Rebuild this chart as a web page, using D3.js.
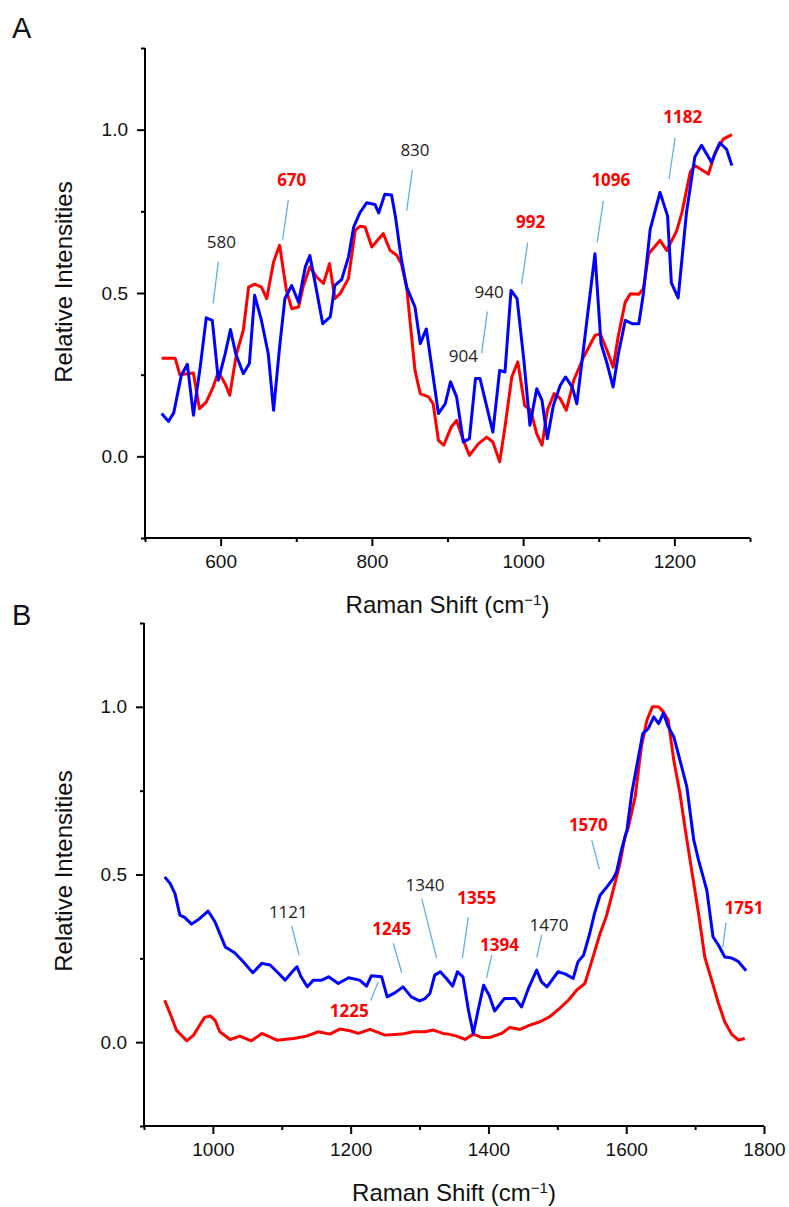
<!DOCTYPE html>
<html>
<head>
<meta charset="UTF-8">
<title>Raman spectra A / B</title>
<script src="https://d3js.org/d3.v7.min.js"></script>
<style>
  body { margin: 0; background: #fff; }
  svg { display: block; }
  .axis path, .axis line { stroke: #000; stroke-width: 2px; }
  .axis text { font-family: "Liberation Sans", Arial, sans-serif; font-size: 19px; fill: #111; }
  .title { font-family: "Liberation Sans", Arial, sans-serif; font-size: 24px; fill: #111; }
  .panel { font-family: "Liberation Sans", Arial, sans-serif; font-size: 29px; fill: #111; }
  .note { font-family: "Open Sans", sans-serif; font-size: 17px; }
  .lead { stroke: #62b0e6; stroke-width: 1.3px; }
</style>
</head>
<body>
<div id="chart"></div>
<script>
// ---- panel A data (Raman shift cm-1, relative intensity) ----
const aRed = [[522,.30],[540,.30],[546,.25],[564,.255],[572,.146],[581,.166],[590,.212],[597,.258],[606,.222],[612,.187],
  [621,.314],[630,.386],[637,.518],[645,.527],[654,.518],[661,.483],[670,.595],[678,.646],[687,.508],[694,.452],
  [703,.457],[709,.518],[718,.58],[727,.549],[736,.529],[744,.59],[751,.483],[758,.498],[769,.544],[778,.692],
  [784,.704],[791,.702],[800,.641],[815,.682],[824,.631],[833,.615],[839,.59],[846,.518],[857,.263],[864,.192],
  [875,.182],[881,.161],[888,.049],[895,.034],[905,.09],[912,.11],[921,.049],[929,.003],[941,.039],[952,.059],
  [960,.044],[969,-.017],[976,.09],[985,.243],[993,.289],[1002,.156],[1010,.141],[1018,.069],[1025,.034],[1032,.141],
  [1041,.192],[1049,.177],[1057,.141],[1067,.233],[1080,.304],[1095,.37],[1102,.375],[1111,.324],[1119,.273],[1126,.37],
  [1135,.472],[1142,.498],[1153,.496],[1159,.513],[1166,.62],[1181,.661],[1190,.63],[1203,.69],[1210,.746],[1221,.87],
  [1227,.89],[1245,.864],[1254,.931],[1265,.972],[1276,.985]];
const aBlue = [[522,.131],[531,.107],[538,.133],[548,.248],[556,.282],[564,.126],[573,.273],[581,.424],[589,.416],[597,.233],
  [606,.314],[613,.388],[620,.314],[630,.253],[638,.284],[645,.493],[654,.416],[663,.314],[670,.141],[678,.335],
  [685,.483],[694,.523],[703,.472],[712,.58],[718,.615],[726,.518],[735,.406],[745,.427],[751,.523],[760,.541],
  [769,.61],[776,.702],[784,.745],[793,.776],[804,.771],[809,.745],[817,.802],[826,.8],[831,.736],[839,.603],
  [846,.518],[857,.457],[864,.345],[872,.39],[888,.131],[897,.161],[904,.228],[912,.182],[921,.044],[929,.054],
  [937,.238],[943,.238],[960,.074],[969,.263],[976,.258],[984,.508],[992,.483],[1001,.294],[1009,.095],[1018,.207],
  [1025,.171],[1032,.054],[1040,.156],[1049,.217],[1056,.243],[1065,.212],[1071,.161],[1078,.294],[1087,.467],[1095,.62],
  [1103,.345],[1111,.284],[1119,.212],[1126,.314],[1135,.416],[1144,.406],[1153,.406],[1159,.498],[1168,.695],[1181,.808],
  [1191,.736],[1196,.531],[1205,.485],[1216,.746],[1227,.916],[1236,.952],[1249,.9],[1260,.96],[1269,.94],[1276,.89]];

// ---- panel B data ----
const bRed = [[930,.125],[938,.085],[947,.036],[962,.004],[972,.021],[981,.051],[988,.074],[996,.078],[1003,.066],[1010,.031],
  [1025,.008],[1039,.018],[1056,.004],[1071,.026],[1093,.006],[1117,.011],[1136,.018],[1153,.031],[1170,.024],[1184,.039],
  [1199,.034],[1211,.026],[1228,.038],[1250,.021],[1274,.024],[1291,.031],[1308,.031],[1320,.036],[1334,.026],[1342,.024],
  [1354,.018],[1366,.008],[1378,.024],[1390,.014],[1402,.014],[1419,.026],[1431,.044],[1446,.038],[1460,.051],[1475,.061],
  [1489,.076],[1503,.1],[1516,.125],[1528,.155],[1540,.175],[1549,.235],[1562,.324],[1571,.374],[1581,.453],[1591,.533],
  [1598,.612],[1603,.64],[1613,.732],[1622,.881],[1630,.96],[1638,1.0],[1647,1.0],[1654,.985],[1661,.96],[1669,.841],
  [1678,.742],[1686,.63],[1695,.513],[1705,.384],[1714,.254],[1724,.185],[1734,.115],[1743,.061],[1753,.024],[1763,.006],
  [1772,.011]];
const bBlue = [[930,.493],[938,.473],[945,.443],[952,.379],[959,.372],[969,.352],[981,.369],[993,.391],[1003,.359],[1018,.284],
  [1032,.266],[1044,.24],[1058,.207],[1071,.235],[1083,.23],[1093,.21],[1105,.185],[1114,.207],[1122,.225],[1128,.195],
  [1137,.165],[1146,.185],[1158,.185],[1168,.195],[1182,.175],[1197,.192],[1213,.185],[1223,.167],[1230,.198],[1245,.195],
  [1253,.135],[1264,.147],[1276,.165],[1288,.135],[1300,.123],[1308,.13],[1315,.145],[1322,.2],[1330,.21],[1339,.19],
  [1348,.167],[1355,.21],[1363,.195],[1371,.095],[1378,.026],[1385,.095],[1393,.17],[1401,.14],[1409,.093],[1423,.13],
  [1439,.13],[1448,.105],[1459,.165],[1470,.215],[1477,.18],[1485,.165],[1501,.21],[1512,.203],[1523,.19],[1530,.24],
  [1538,.259],[1547,.324],[1554,.384],[1562,.438],[1572,.463],[1581,.488],[1586,.508],[1593,.573],[1601,.632],[1608,.742],
  [1615,.82],[1624,.92],[1632,.935],[1640,.97],[1647,.95],[1654,.981],[1661,.941],[1669,.911],[1678,.841],[1688,.761],
  [1698,.603],[1705,.543],[1717,.453],[1726,.314],[1734,.289],[1743,.254],[1753,.251],[1763,.24],[1774,.213]];

// ---- axis ticks ----
const aMajorX = [600, 800, 1000, 1200];
const aMinorX = [500, 700, 900, 1100, 1300];
const bMajorX = [1000, 1200, 1400, 1600, 1800];
const bMinorX = [900, 1100, 1300, 1500, 1700];
const majorY = [0, 0.5, 1.0];
const minorY = [-0.25, 0.25, 0.75, 1.25];

// ---- peak annotations: [text, bold?, label x, label y, lead x1, y1, x2, y2] in data units ----
const aNotes = [
  ["580", false, 601, .657, 597, .596, 590, .468],
  ["670", true, 694, .846, 689.5, .785, 682, .663],
  ["830", false, 857, .938, 853.5, .876, 846, .752],
  ["992", true, 1010, .718, 1006, .654, 998, .527],
  ["1096", true, 1116, .846, 1106, .782, 1098, .655],
  ["1182", true, 1211, 1.039, 1201, .976, 1193, .849],
  ["940", false, 955, .504, null],
  ["904", false, 921, .307, 952.6, .443, 945.2, .315]
];
const bNotes = [
  ["1121", false, 1109.5, .389, 1114.4, .347, 1125, .26],
  ["1245", true, 1259.6, .337, 1261.9, .295, 1274.1, .207],
  ["1225", true, 1198, .093, 1229.1, .124, 1240.1, .18],
  ["1340", false, 1308, .469, 1303.1, .429, 1324.9, .25],
  ["1355", true, 1383, .429, 1370.8, .373, 1362.1, .25],
  ["1394", true, 1416, .29, 1404.8, .26, 1397.2, .191],
  ["1470", false, 1488, .35, 1477.3, .32, 1470.1, .252],
  ["1570", true, 1545, .648, 1549.9, .603, 1560.9, .516],
  ["1751", true, 1771, .401, 1744.8, .356, 1740, .283]
];

const svg = d3.select("#chart").append("svg")
  .attr("width", 789).attr("height", 1207);

function drawPanel(o) {
  const x = d3.scaleLinear().domain(o.xDomain).range(o.xRange);
  const y = d3.scaleLinear().domain([-0.25, 1.25]).range(o.yRange);
  const g = svg.append("g");
  const x0 = o.xRange[0], yb = o.yRange[0];

  // x axis, major then minor ticks
  g.append("g").attr("class", "axis").attr("transform", `translate(0,${yb})`)
    .call(d3.axisBottom(x).tickValues(o.majorX).tickSize(8).tickPadding(9).tickFormat(d3.format("d")))
    .call(s => s.select(".domain").attr("d", `M${o.xRange[0]},0H${o.xRange[1]}`));
  g.append("g").attr("class", "axis").attr("transform", `translate(0,${yb})`)
    .call(d3.axisBottom(x).tickValues(o.minorX).tickSize(4).tickFormat(""))
    .call(s => s.select(".domain").remove());

  // y axis
  g.append("g").attr("class", "axis").attr("transform", `translate(${x0},0)`)
    .call(d3.axisLeft(y).tickValues(majorY).tickSize(8).tickPadding(9).tickFormat(d3.format(".1f")))
    .call(s => s.select(".domain").attr("d", `M0,${o.yRange[0]}V${o.yRange[1]}`));
  g.append("g").attr("class", "axis").attr("transform", `translate(${x0},0)`)
    .call(d3.axisLeft(y).tickValues(minorY).tickSize(4).tickFormat(""))
    .call(s => s.select(".domain").remove());

  // spectra
  const line = d3.line().x(d => x(d[0])).y(d => y(d[1]));
  [[o.red, "#ff0000"], [o.blue, "#0000ff"]].forEach(([data, c]) => {
    g.append("path").datum(data).attr("d", line)
      .attr("fill", "none").attr("stroke", c).attr("stroke-width", 3)
      .attr("stroke-linejoin", "round");
  });

  // annotations
  o.notes.forEach(n => {
    if (n[4] != null) {
      g.append("line").attr("class", "lead")
        .attr("x1", x(n[4])).attr("y1", y(n[5]))
        .attr("x2", x(n[6])).attr("y2", y(n[7]));
    }
    g.append("text").attr("class", "note")
      .attr("x", x(n[2])).attr("y", y(n[3]))
      .attr("dy", "0.36em").attr("text-anchor", "middle")
      .attr("fill", n[1] ? "#ff0000" : "#222")
      .attr("font-weight", n[1] ? "bold" : "normal")
      .text(n[0]);
  });

  // axis titles
  const xt = g.append("text").attr("class", "title")
    .attr("x", (o.xRange[0] + o.xRange[1]) / 2).attr("y", yb + o.titleGap)
    .attr("text-anchor", "middle");
  xt.append("tspan").text("Raman Shift (cm");
  xt.append("tspan").attr("dy", "-8").attr("font-size", "15px").text("\u22121");
  xt.append("tspan").attr("dy", "8").text(")");

  g.append("text").attr("class", "title")
    .attr("transform", `translate(72,${o.yTitleMid}) rotate(-90)`)
    .attr("text-anchor", "middle").text("Relative Intensities");

  g.append("text").attr("class", "panel")
    .attr("x", 12).attr("y", o.letterY).text(o.letter);
}

drawPanel({ letter: "A", letterY: 38, xDomain: [500, 1300], xRange: [145, 750], yRange: [538, 48],
  majorX: aMajorX, minorX: aMinorX, red: aRed, blue: aBlue, notes: aNotes, titleGap: 75, yTitleMid: 282 });
drawPanel({ letter: "B", letterY: 625, xDomain: [900, 1800], xRange: [144, 764], yRange: [1126, 623],
  majorX: bMajorX, minorX: bMinorX, red: bRed, blue: bBlue, notes: bNotes, titleGap: 75, yTitleMid: 871 });
</script>
</body>
</html>
